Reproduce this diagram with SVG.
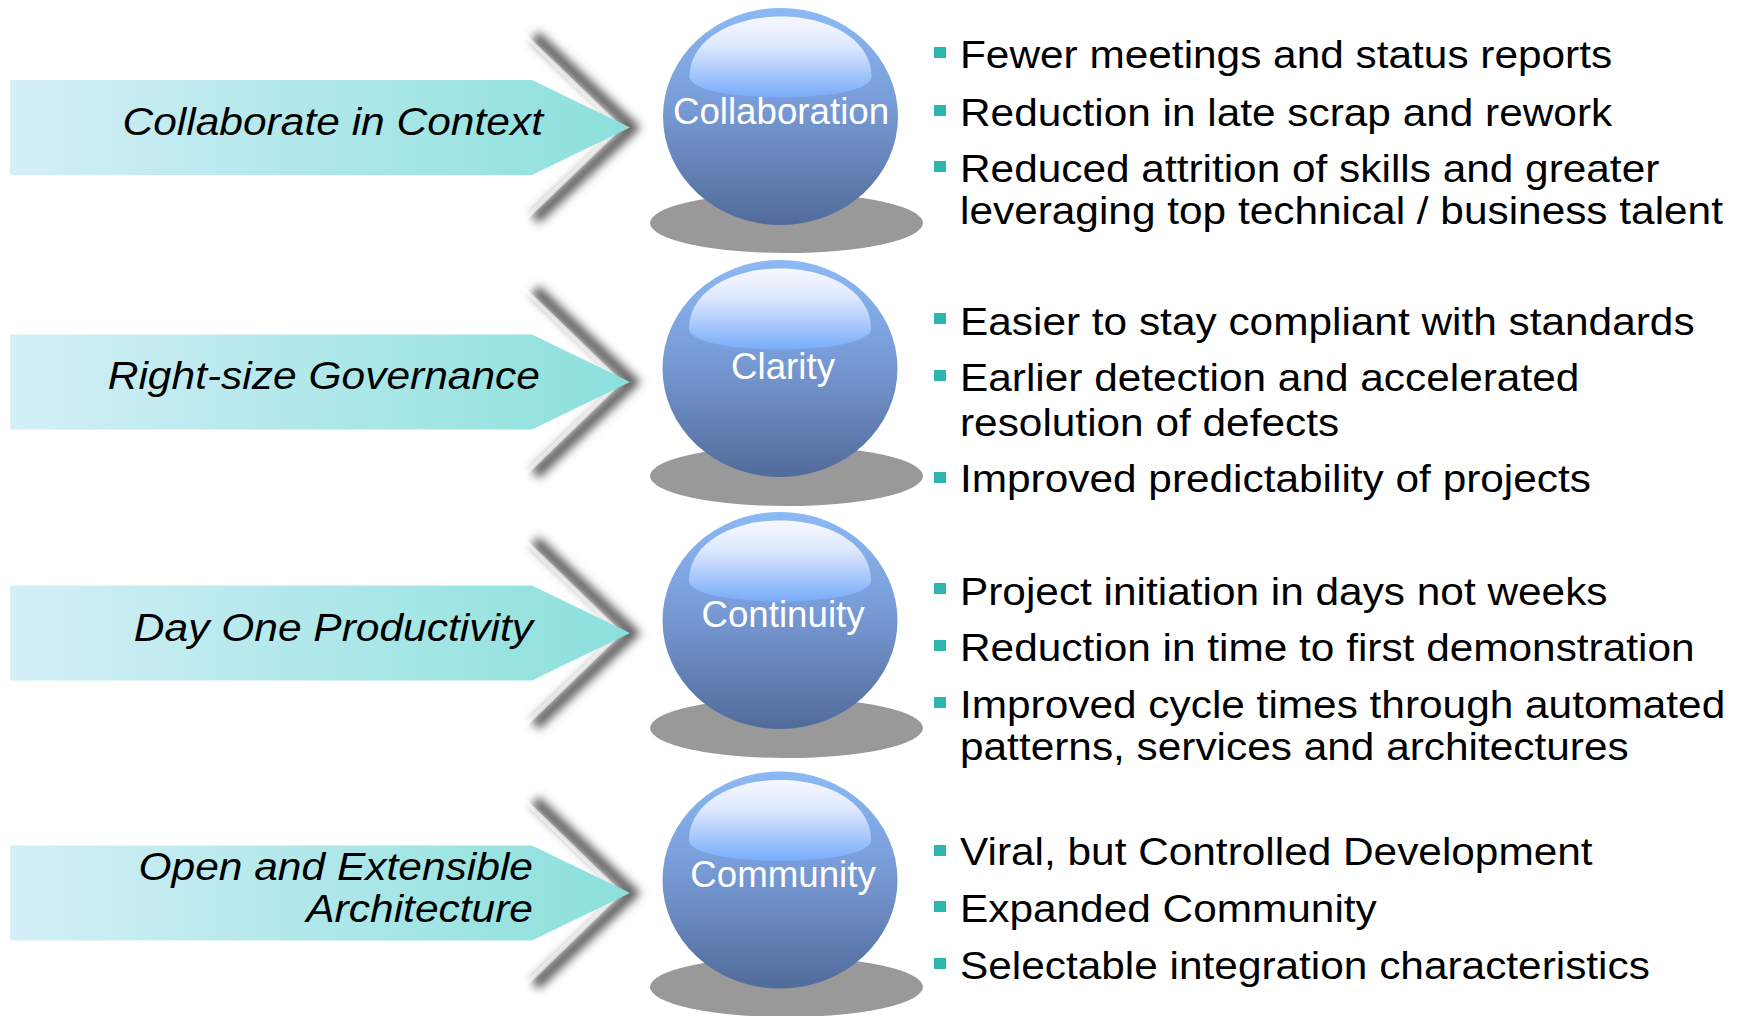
<svg xmlns="http://www.w3.org/2000/svg" width="1745" height="1016" viewBox="0 0 1745 1016">
<defs>
<linearGradient id="arrowGrad" x1="0" y1="0" x2="1" y2="0">
<stop offset="0" stop-color="#d4eff7"/>
<stop offset="1" stop-color="#8be0dc"/>
</linearGradient>
<linearGradient id="sphereGrad" x1="0" y1="0" x2="0" y2="1">
<stop offset="0" stop-color="#8cb9f5"/>
<stop offset="0.45" stop-color="#789bd6"/>
<stop offset="1" stop-color="#516b9a"/>
</linearGradient>
<linearGradient id="hiGrad" x1="0" y1="0" x2="0" y2="1">
<stop offset="0" stop-color="#f6f8fd"/>
<stop offset="0.35" stop-color="#dfe9fd"/>
<stop offset="1" stop-color="#77abfa"/>
</linearGradient>
<filter id="blur" x="-50%" y="-50%" width="200%" height="200%">
<feGaussianBlur stdDeviation="5"/>
</filter>
<path id="hi" d="M-91,-40 C-91,-76 -50,-100 0,-100 C50,-100 91,-76 91,-40 C91,-27 50,-19 0,-19 C-50,-19 -91,-27 -91,-40 Z"/>
</defs>
<style>
.arrow{fill:url(#arrowGrad)}
.sphere{fill:url(#sphereGrad)}
.hi{fill:url(#hiGrad)}
.shadow{fill:#999999}
.chev{fill:none;stroke:#5a5a5a;stroke-width:12;filter:url(#blur)}
.chevcut{fill:none;stroke:#ffffff;stroke-width:4;opacity:0.6}
.lbl{font-family:"Liberation Sans",Arial,sans-serif;font-style:italic;font-size:39px;fill:#000;text-anchor:end}
.stx{font-family:"Liberation Sans",Arial,sans-serif;font-size:36.7px;fill:#fff;text-anchor:middle}
.btx{font-family:"Liberation Sans",Arial,sans-serif;font-size:38px;fill:#000}
.bul{fill:#2db5b0}
</style>
<rect width="1745" height="1016" fill="#ffffff"/>

<g id="connectors">
<path class="chev" d="M535,36 L632,127.5 L535,219"/>
<path class="chevcut" d="M523,34 L620,127.5 L523,221"/>
<path class="chev" d="M535,290 L632,382 L535,474"/>
<path class="chevcut" d="M523,288 L620,382 L523,476"/>
<path class="chev" d="M535,541 L632,633 L535,725"/>
<path class="chevcut" d="M523,539 L620,633 L523,727"/>
<path class="chev" d="M535,801 L632,893 L535,985"/>
<path class="chevcut" d="M523,799 L620,893 L523,987"/>
</g>

<g id="label-collaborate">
<path class="arrow" d="M10,80 L532,80 L630,127.5 L532,175 L10,175 Z"/>
<text class="lbl" transform="translate(543,135) scale(1.09,1)">Collaborate in Context</text>
</g>
<g id="label-governance">
<path class="arrow" d="M10,334.5 L532,334.5 L630,382 L532,429.5 L10,429.5 Z"/>
<text class="lbl" transform="translate(540,389) scale(1.09,1)">Right-size Governance</text>
</g>
<g id="label-productivity">
<path class="arrow" d="M10,585.5 L532,585.5 L630,633 L532,680.5 L10,680.5 Z"/>
<text class="lbl" transform="translate(533,641) scale(1.09,1)">Day One Productivity</text>
</g>
<g id="label-architecture">
<path class="arrow" d="M10,845.5 L532,845.5 L630,893 L532,940.5 L10,940.5 Z"/>
<text class="lbl" transform="translate(533,880) scale(1.09,1)">Open and Extensible</text>
<text class="lbl" transform="translate(533,922) scale(1.09,1)">Architecture</text>
</g>

<g id="sphere-collaboration">
<ellipse class="shadow" cx="786.5" cy="223" rx="136.5" ry="30"/>
<ellipse class="sphere" cx="780.5" cy="116.5" rx="117.5" ry="108.5"/>
<use href="#hi" class="hi" transform="translate(780.5,116.5)"/>
<text class="stx" x="781" y="124">Collaboration</text>
</g>
<g id="sphere-clarity">
<ellipse class="shadow" cx="786.5" cy="476" rx="136.5" ry="30"/>
<ellipse class="sphere" cx="780" cy="368.5" rx="117.5" ry="108.5"/>
<use href="#hi" class="hi" transform="translate(780,368.5)"/>
<text class="stx" x="783" y="379">Clarity</text>
</g>
<g id="sphere-continuity">
<ellipse class="shadow" cx="786.5" cy="728" rx="136.5" ry="30"/>
<ellipse class="sphere" cx="780" cy="620.5" rx="117.5" ry="108.5"/>
<use href="#hi" class="hi" transform="translate(780,620.5)"/>
<text class="stx" x="783" y="627">Continuity</text>
</g>
<g id="sphere-community">
<ellipse class="shadow" cx="786.5" cy="987" rx="136.5" ry="30"/>
<ellipse class="sphere" cx="780" cy="880" rx="117.5" ry="108.5"/>
<use href="#hi" class="hi" transform="translate(780,880)"/>
<text class="stx" x="783" y="887">Community</text>
</g>

<g id="benefits-collaboration">
<rect class="bul" x="934" y="47" width="12" height="11"/>
<text class="btx" transform="translate(960,68) scale(1.115,1)">Fewer meetings and status reports</text>
<rect class="bul" x="934" y="105" width="12" height="11"/>
<text class="btx" transform="translate(960,126) scale(1.115,1)">Reduction in late scrap and rework</text>
<rect class="bul" x="934" y="161" width="12" height="11"/>
<text class="btx" transform="translate(960,182) scale(1.115,1)">Reduced attrition of skills and greater<tspan x="0" dy="42">leveraging top technical / business talent</tspan></text>
</g>
<g id="benefits-clarity">
<rect class="bul" x="934" y="313" width="12" height="11"/>
<text class="btx" transform="translate(960,335) scale(1.115,1)">Easier to stay compliant with standards</text>
<rect class="bul" x="934" y="370" width="12" height="11"/>
<text class="btx" transform="translate(960,391) scale(1.115,1)">Earlier detection and accelerated<tspan x="0" dy="45">resolution of defects</tspan></text>
<rect class="bul" x="934" y="472" width="12" height="11"/>
<text class="btx" transform="translate(960,492) scale(1.115,1)">Improved predictability of projects</text>
</g>
<g id="benefits-continuity">
<rect class="bul" x="934" y="583" width="12" height="11"/>
<text class="btx" transform="translate(960,605) scale(1.115,1)">Project initiation in days not weeks</text>
<rect class="bul" x="934" y="640" width="12" height="11"/>
<text class="btx" transform="translate(960,661) scale(1.115,1)">Reduction in time to first demonstration</text>
<rect class="bul" x="934" y="697" width="12" height="11"/>
<text class="btx" transform="translate(960,718) scale(1.115,1)">Improved cycle times through automated<tspan x="0" dy="42">patterns, services and architectures</tspan></text>
</g>
<g id="benefits-community">
<rect class="bul" x="934" y="845" width="12" height="11"/>
<text class="btx" transform="translate(960,865) scale(1.115,1)">Viral, but Controlled Development</text>
<rect class="bul" x="934" y="901" width="12" height="11"/>
<text class="btx" transform="translate(960,922) scale(1.115,1)">Expanded Community</text>
<rect class="bul" x="934" y="958" width="12" height="11"/>
<text class="btx" transform="translate(960,979) scale(1.115,1)">Selectable integration characteristics</text>
</g>
</svg>
